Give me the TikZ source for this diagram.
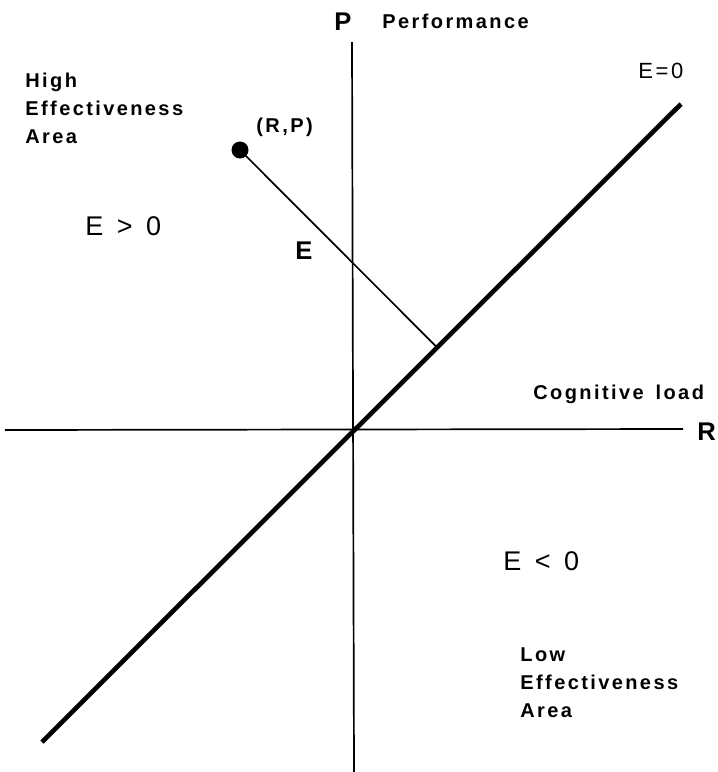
\documentclass[tikz,border=0pt]{standalone}
\usepackage{xcolor}
\usepackage{fontspec}
\usepackage{tikz}
\usetikzlibrary{calc, positioning}
\newfontfamily\lblfont[LetterSpace=12]{Liberation Sans}

\begin{document}
\begin{tikzpicture}[x=0.5pt, y=-0.5pt,
    axis/.style={line width=0.85pt},
    zeroline/.style={line width=2.3pt},
    lbl/.style={inner sep=0pt, font=\lblfont\bfseries\fontsize{10}{14}\selectfont},
    big/.style={inner sep=0pt, font=\lblfont\bfseries\fontsize{12.8}{15}\selectfont},
    region/.style={inner sep=0pt, font=\lblfont\fontsize{13.5}{15}\selectfont}]
    	\useasboundingbox (0,0) rectangle (718,772);
    	\coordinate (O) at (353,430);
    	\coordinate (Pt) at (352,42);
    	\coordinate (Pb) at (354,772);
    	\coordinate (Rl) at (5,430);
    	\coordinate (Rr) at (683,429);
    	\coordinate (Dl) at (42,742);
    	\coordinate (Dr) at (681,104);
    	\node[circle, fill, inner sep=0pt, minimum size=8.5pt] (RP) at (240,150) {};
    	\coordinate (F) at ($(Dl)!(RP)!(Dr)$);
    %	axes
    	\draw[axis] (Pt) -- (Pb);
    	\draw[axis] (Rl) -- (Rr);
    	\draw[zeroline] (Dl) -- (Dr);
    	\draw[axis] (RP.center) -- (F);
    %	labels
    	\node[big] (P) at (343,22) {P};
    	\node[lbl, anchor=west] (perf) at (382,21) {Performance};
    	\node[big, anchor=west] (R) at (697,432) {R};
    	\node[lbl, anchor=base west] (cog) at (533,399) {Cognitive\hspace{2pt} load};
    	\node[region, anchor=base west, font=\lblfont\fontsize{11}{12}\selectfont] (E0) at (638,78) {E=0};
    	\node[lbl, anchor=base west] (rp) at (256,132) {(R,P)};
    	\node[big, anchor=base west] (E) at (295,259) {E};
    	\node[region, anchor=base west] (Epos) at (85,235) {E\hspace{0.5em}>\hspace{0.5em}0};
    	\node[region, anchor=base west] (Eneg) at (503,570) {E\hspace{0.5em}<\hspace{0.5em}0};
    	\node[lbl, anchor=north west, align=left] (high) at (25,73) {High\\Effectiveness\\Area};
    	\node[lbl, anchor=north west, align=left] (low) at (520,647) {Low\\Effectiveness\\Area};
    
    \end{tikzpicture}
\end{document}
